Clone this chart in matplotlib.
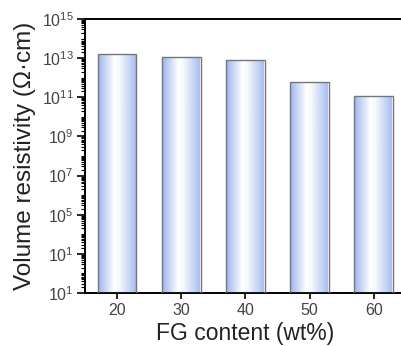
import numpy as np
import matplotlib
matplotlib.use("Agg")
import matplotlib.pyplot as plt
from matplotlib.colors import LinearSegmentedColormap
from matplotlib.ticker import LogLocator, FixedLocator, NullFormatter

plt.rcParams['font.family'] = ['Liberation Sans', 'DejaVu Sans']
plt.rcParams['mathtext.fontset'] = 'custom'
plt.rcParams['mathtext.rm'] = 'Liberation Sans'
plt.rcParams['mathtext.it'] = 'Liberation Sans:italic'

# --- Data ---
fg_content = [20, 30, 40, 50, 60]
resistivity = [1.6e13, 1.1e13, 8.0e12, 6.0e11, 1.2e11]
ytick_values = [1e1, 1e3, 1e5, 1e7, 1e9, 1e11, 1e13, 1e15]
ytick_labels = ['10$^{1}$', '10$^{1}$', '10$^{5}$', '10$^{7}$',
                '10$^{9}$', '10$^{11}$', '10$^{13}$', '10$^{15}$']

fig = plt.figure(figsize=(4.01, 3.46), dpi=100)
ax = fig.add_axes([0.212, 0.153, 0.80, 0.792])

ax.set_yscale('log')

# gradient bars (blue edges, white centre)
cmap = LinearSegmentedColormap.from_list(
    'bar', [(0.0, '#9fb7ef'), (0.42, '#ffffff'), (0.55, '#f6f8fd'), (1.0, '#a3baef')])
grad = np.linspace(0, 1, 256).reshape(1, -1)
bar_w = 6
for x, v in zip(fg_content, resistivity):
    rect = ax.bar(x, v - 1e1, bottom=1e1, width=bar_w, color='none',
                  edgecolor='#767676', linewidth=1.0, zorder=3)[0]
    im = ax.imshow(grad, cmap=cmap, aspect='auto',
                   extent=[x - bar_w / 2, x + bar_w / 2, 1e1, v],
                   zorder=2, interpolation='bicubic')
    im.set_clip_path(rect)
ax.set_xlim(15, 65)
ax.set_ylim(1e1, 1e15)

ax.set_xticks(fg_content)
ax.set_xticklabels([str(c) for c in fg_content])
ax.yaxis.set_major_locator(FixedLocator(ytick_values))
ax.set_yticklabels(ytick_labels)
ax.yaxis.set_minor_locator(LogLocator(base=10, subs=np.arange(1, 10), numticks=100))
ax.yaxis.set_minor_formatter(NullFormatter())

ax.tick_params(axis='y', which='major', direction='out', length=6, width=1.2,
               labelsize=11.5, labelcolor='#444444', pad=2)
ax.tick_params(axis='y', which='minor', direction='out', length=3, width=0.8)
ax.tick_params(axis='x', which='major', direction='out', length=4, width=1.2,
               labelsize=11.5, labelcolor='#444444', pad=3)

ax.spines['right'].set_visible(False)
for s in ['left', 'top', 'bottom']:
    ax.spines[s].set_linewidth(1.4)

ax.set_xlabel('FG content (wt%)', fontsize=16.5, color='#222222', labelpad=3)
ax.set_ylabel('Volume resistivity (Ω·cm)', fontsize=17.5, color='#222222', labelpad=4)

fig.savefig('out.png', dpi=100)
